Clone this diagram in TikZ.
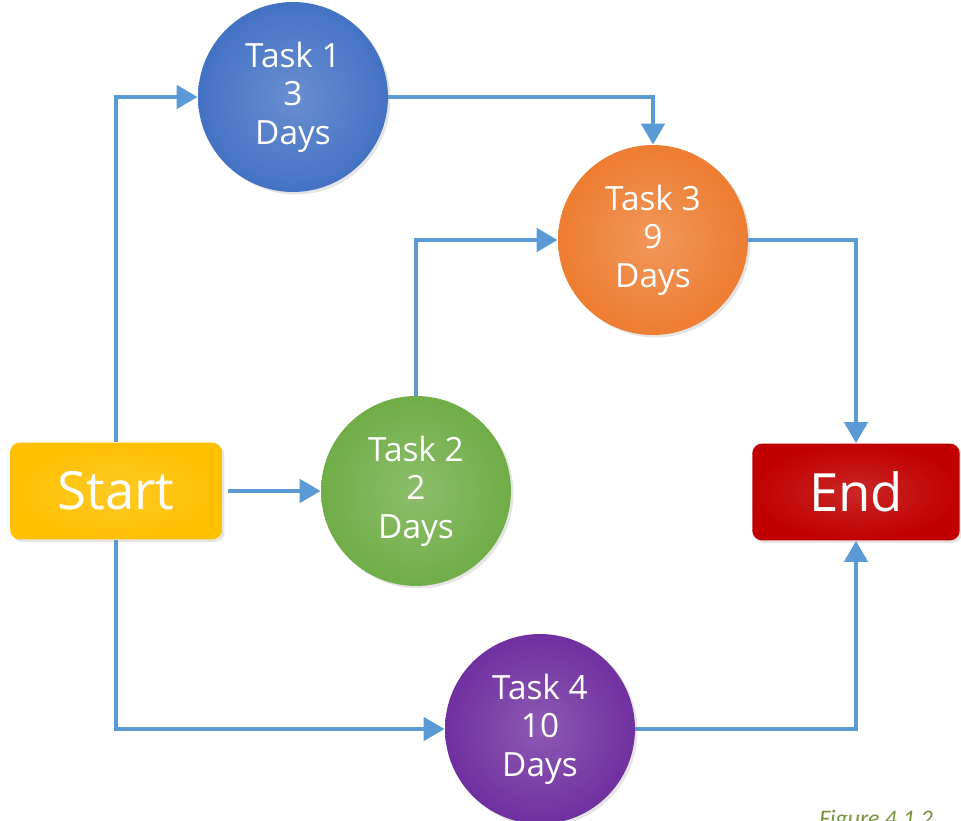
\documentclass[tikz,border=0pt]{standalone}
\usepackage{fontspec}
\setmainfont{Open Sans}
\newfontfamily\capfont{Carlito}
\usetikzlibrary{arrows.meta,shadows}
\definecolor{linkblue}{RGB}{91,155,213}
\definecolor{taskblue}{RGB}{68,114,196}
\definecolor{taskorange}{RGB}{237,125,49}
\definecolor{taskgreen}{RGB}{112,173,71}
\definecolor{taskpurple}{RGB}{112,48,160}
\definecolor{startgold}{RGB}{255,192,0}
\definecolor{endred}{RGB}{192,0,0}
\definecolor{capgreen}{RGB}{118,146,60}
\tikzset{
  task/.style={circle,minimum size=3.8cm,inner sep=0pt,text=white,align=center,
    font=\fontsize{19}{22}\selectfont,inner color=#1!80!white,outer color=#1,
    drop shadow={opacity=0.2,shadow xshift=0.05cm,shadow yshift=-0.05cm}},
  endbox/.style={rectangle,rounded corners=0.2cm,minimum width=4.15cm,minimum height=1.94cm,
    text=white,font=\fontsize{30}{34}\selectfont,inner color=#1!85!white,outer color=#1,
    drop shadow={opacity=0.2,shadow xshift=0.05cm,shadow yshift=-0.05cm}},
  link/.style={draw=linkblue,line width=2.6pt,-{Triangle[length=0.42cm,width=0.46cm]}}
}
\begin{document}
\begin{tikzpicture}[x=0.02cm,y=-0.02cm]
  \useasboundingbox[fill=white](0,0)rectangle(961,821);
  % boxes
  \node[endbox=startgold,minimum width=4.24cm](start)at(116,491){Start};
  \node[endbox=endred](end)at(856,492){End};
  % tasks
  \node[task=taskblue](t1)at(293,97){Task 1\\3\\Days};
  \node[task=taskorange](t3)at(653,240){Task 3\\9\\Days};
  \node[task=taskgreen](t2)at(416,491){Task 2\\2\\Days};
  \node[task=taskpurple](t4)at(540,729){Task 4\\10\\Days};
  % links
  \draw[link](start.north)|-(t1);
  \draw[link](t1)-|(t3);
  \draw[link](t2)|-(t3);
  \draw[link](t3)-|(end);
  \draw[link,shorten <=0.12cm](start)--(t2);
  \draw[link](start.south)|-(t4);
  \draw[link](t4)-|(end);
  \node[anchor=north west,inner sep=0pt,text=capgreen,font=\capfont\itshape\fontsize{13.5}{16}\selectfont](cap)at(819,810){Figure 4.1.2};
\end{tikzpicture}
\end{document}
